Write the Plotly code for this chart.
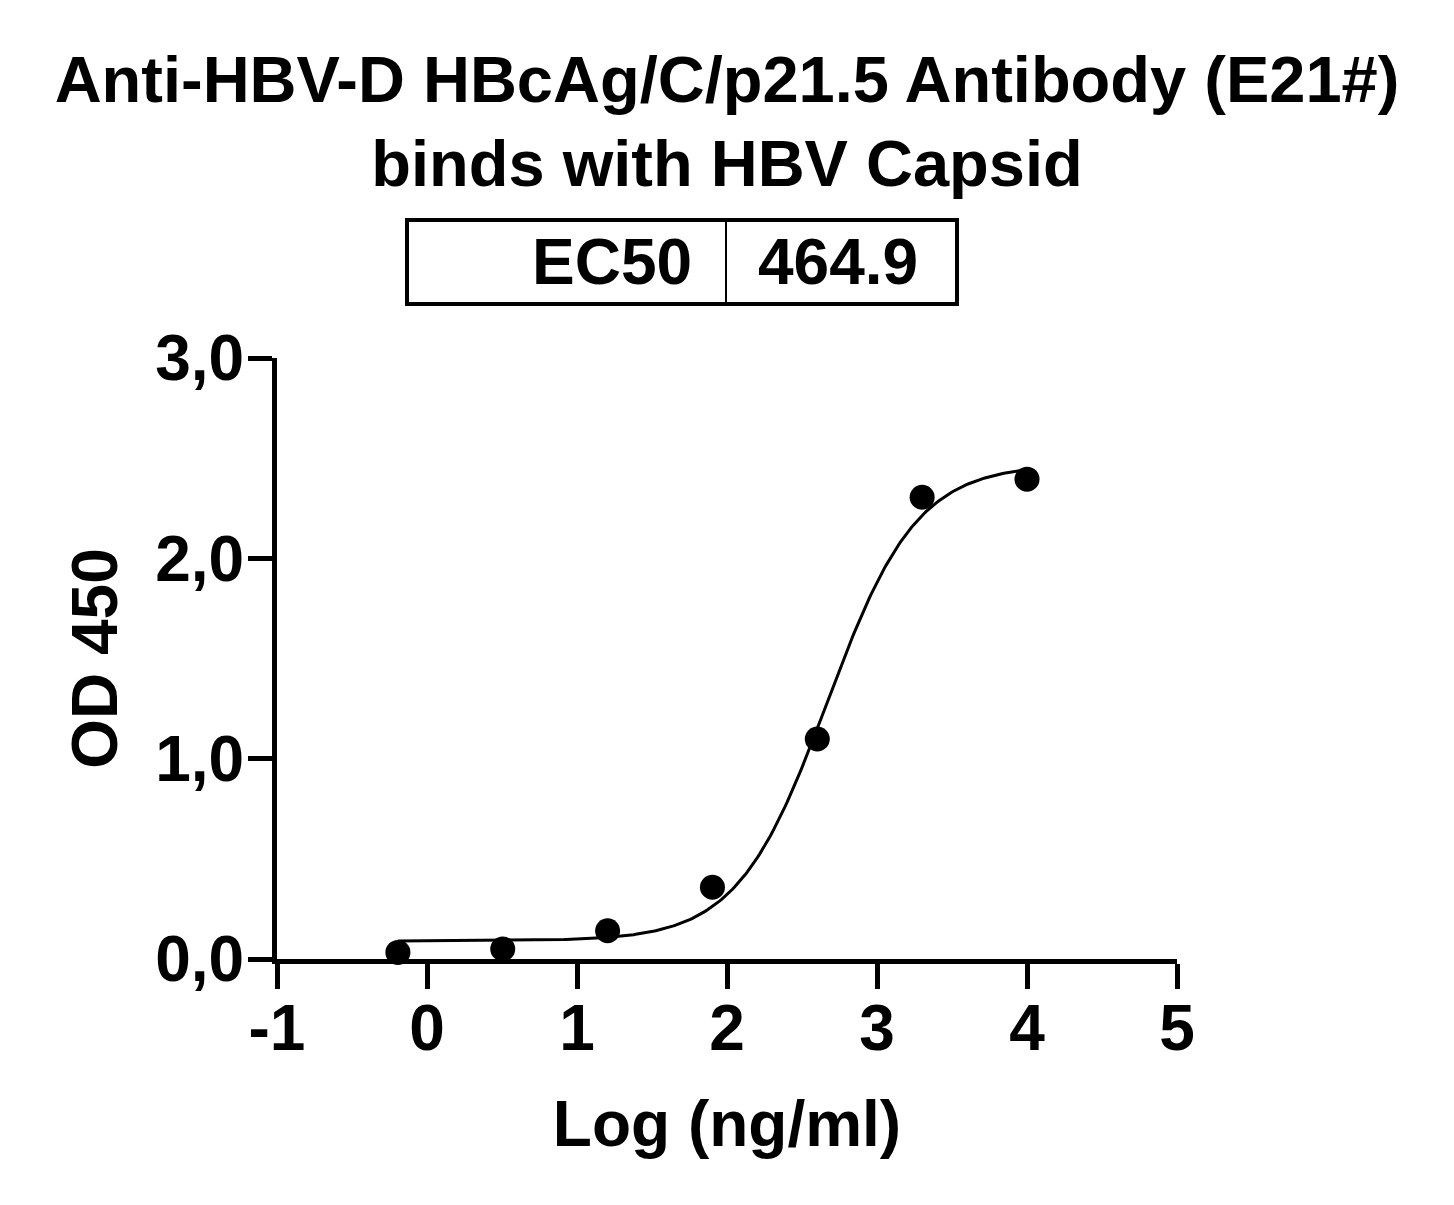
import numpy as np
import plotly.graph_objects as go

# ---- data ----
log_conc = [-0.194, 0.505, 1.204, 1.903, 2.602, 3.301, 4.0]
od450 = [0.033, 0.050, 0.141, 0.358, 1.098, 2.305, 2.395]

# 4PL fit parameters (EC50 as reported)
fit_bottom = 0.09
fit_top = 2.47
ec50 = 464.9
hill = 1.45

x_tickvals = [-1, 0, 1, 2, 3, 4, 5]
x_ticktext = ["-1", "0", "1", "2", "3", "4", "5"]
y_tickvals = [0, 1, 2, 3]
y_ticktext = ["0,0", "1,0", "2,0", "3,0"]

title_text = "Anti-HBV-D HBcAg/C/p21.5 Antibody (E21#)<br>binds with HBV Capsid"
ec50_label = "EC50"
ec50_value = "464.9"

FONT = "Liberation Sans, Arial, Helvetica, sans-serif"
FS = 64

xf = np.linspace(min(log_conc), max(log_conc), 300)
yf = fit_bottom + (fit_top - fit_bottom) / (1 + 10 ** ((np.log10(ec50) - xf) * hill))

fig = go.Figure()
fig.add_trace(go.Scatter(x=xf, y=yf, mode="lines",
                         line=dict(color="black", width=3),
                         showlegend=False, hoverinfo="skip", cliponaxis=False))
fig.add_trace(go.Scatter(x=log_conc, y=od450, mode="markers",
                         marker=dict(color="black", size=25),
                         showlegend=False, cliponaxis=False))

# page has an 8px body margin; figure is sized/offset to compensate
W, H = 1446, 1197
L, T = 269, 350
PW, PH = 900, 601
R, B = W - L - PW, H - T - PH

fig.update_layout(
    width=W, height=H,
    margin=dict(l=L, r=R, t=T, b=B, autoexpand=False),
    paper_bgcolor="white", plot_bgcolor="white",
    font=dict(family=FONT, size=FS, color="black", weight="bold"),
    title=dict(text=title_text, x=(L + PW / 2) / W, xanchor="center",
               y=0.9218, yanchor="top", yref="container",
               font=dict(family=FONT, size=65, color="black", weight="bold")),
    xaxis=dict(range=[-1, 5], tickvals=x_tickvals, ticktext=x_ticktext,
               showgrid=False, zeroline=False, showline=True, linecolor="black",
               linewidth=5, ticks="outside", ticklen=25, tickwidth=5, tickcolor="black",
               ticklabelstandoff=-16,
               title=dict(text="Log (ng/ml)", standoff=40,
                          font=dict(family=FONT, size=FS, weight="bold")),
               tickfont=dict(family=FONT, size=FS, weight="bold")),
    yaxis=dict(range=[0, 3], tickvals=y_tickvals, ticktext=y_ticktext,
               showgrid=False, zeroline=False, showline=True, linecolor="black",
               linewidth=5, ticks="outside", ticklen=24, tickwidth=5, tickcolor="black",
               ticklabelstandoff=-9,
               title=dict(text="OD 450", standoff=18,
                          font=dict(family=FONT, size=FS, weight="bold")),
               tickfont=dict(family=FONT, size=FS, weight="bold")),
)

# EC50 box (paper coordinates, derived from screen pixel positions)
SCR_LEFT, SCR_BOTTOM = L + 8, T + 8 + PH

def px_x(p):
    return (p - SCR_LEFT) / PW

def px_y(p):
    return (SCR_BOTTOM - p) / PH

bx0, bx1, bdiv = px_x(407), px_x(957), px_x(726)
by0, by1 = px_y(304), px_y(220)
fig.add_shape(type="rect", xref="paper", yref="paper", x0=bx0, x1=bx1, y0=by0, y1=by1,
              line=dict(color="black", width=4))
fig.add_shape(type="line", xref="paper", yref="paper", x0=bdiv, x1=bdiv, y0=by0, y1=by1,
              line=dict(color="black", width=2))
ymid = (by0 + by1) / 2
fig.add_annotation(text=ec50_label, xref="paper", yref="paper", x=px_x(694), y=ymid,
                   xanchor="right", yanchor="middle", showarrow=False,
                   font=dict(family=FONT, size=FS, weight="bold"))
fig.add_annotation(text=ec50_value, xref="paper", yref="paper", x=px_x(756), y=ymid,
                   xanchor="left", yanchor="middle", showarrow=False,
                   font=dict(family=FONT, size=FS, weight="bold"))

fig.write_html("out.html")
